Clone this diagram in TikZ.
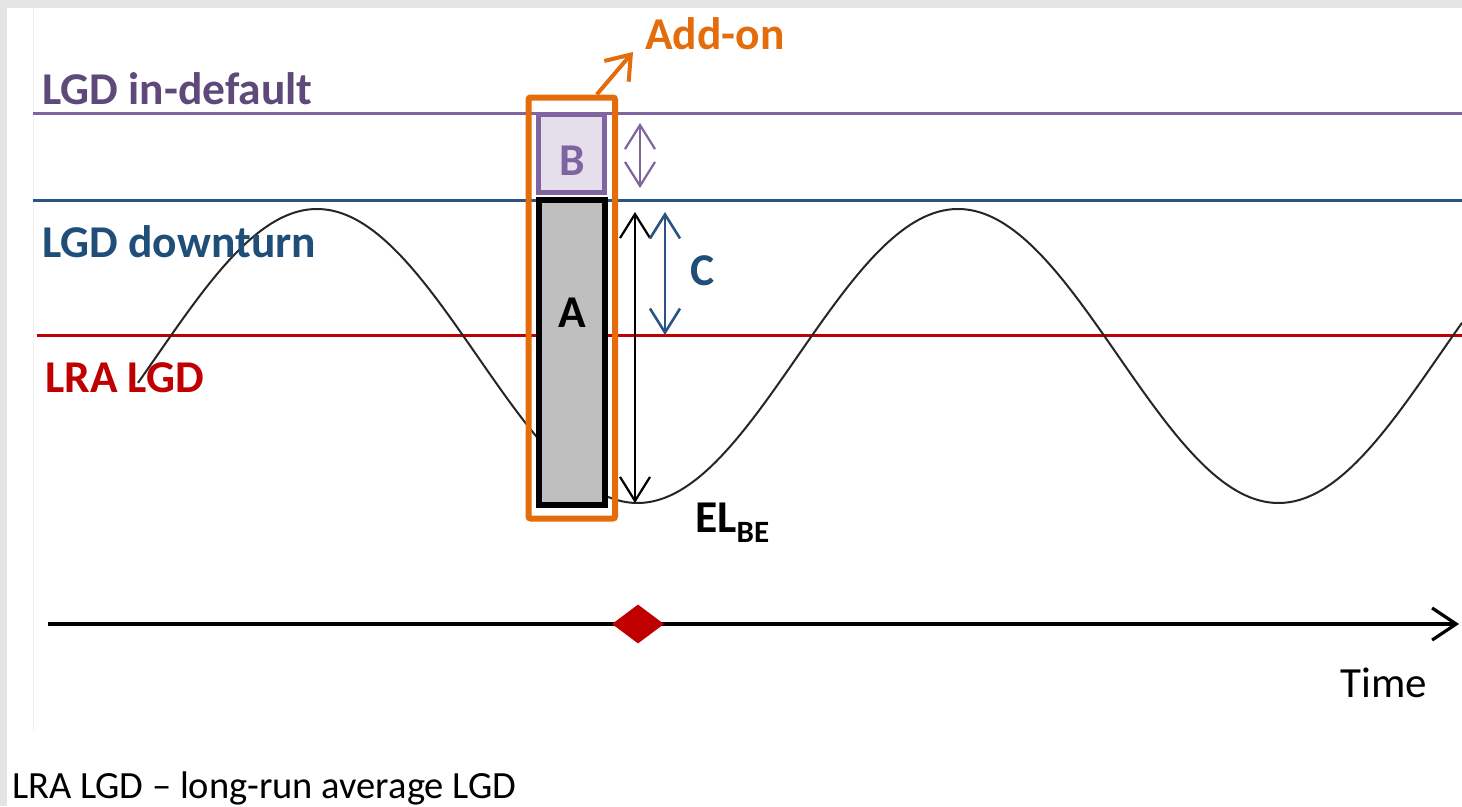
\documentclass[tikz,border=0pt]{standalone}
\usepackage{fontspec}
\setmainfont{Carlito}
\usepackage{xcolor}
\usepackage{tikz}
\usetikzlibrary{shapes.geometric, arrows.meta, positioning}

\definecolor{lgdpurple}{HTML}{8064A2}
\definecolor{lgdpurpletext}{HTML}{5F497A}
\definecolor{lgdblue}{HTML}{1F4E79}
\definecolor{lgdblueline}{HTML}{2B5483}
\definecolor{lgdred}{HTML}{C00000}
\definecolor{addonorange}{HTML}{E46C0A}
\definecolor{pagegray}{HTML}{E4E4E4}
\definecolor{barfill}{HTML}{BFBFBF}
\definecolor{bfill}{HTML}{E5DFEC}

\begin{document}
\begin{tikzpicture}[
  x=1pt, y=-1pt,
  lvltext/.style={anchor=base west, inner sep=0pt, font=\fontsize{45.5}{52}\selectfont\bfseries},
  plaintext/.style={anchor=base west, inner sep=0pt, font=\fontsize{43}{50}\selectfont},
  bartext/.style={anchor=base, inner sep=0pt, font=\fontsize{45.5}{52}\selectfont\bfseries},
  levelline/.style={line width=3pt},
  barbox/.style={rectangle, draw=black, line width=6pt, fill=barfill,
                 minimum width=66pt, minimum height=305pt, inner sep=0pt},
  inbox/.style={rectangle, draw=lgdpurple, line width=5pt, fill=bfill,
                minimum width=66pt, minimum height=78pt, inner sep=0pt},
  addonbox/.style={rectangle, draw=addonorange, line width=6pt, rounded corners=2pt,
                   minimum width=86.5pt, minimum height=421pt, inner sep=0pt},
  dbl/.style={{Straight Barb[length=24pt,width=30pt]}-{Straight Barb[length=24pt,width=30pt]},
              line width=2.2pt},
  addonarrow/.style={-{Straight Barb[length=22pt,width=32pt]}, line width=4pt, color=addonorange},
  timeaxis/.style={-{Straight Barb[length=24pt,width=32pt]}, line width=3.2pt},
  cycle/.style={line width=2pt, black!85}
]

\useasboundingbox (0,0) rectangle (1462,806);
\fill[pagegray] (0,0) rectangle (1462,806);
\fill[white] (7,8) rectangle (1462,806);
\draw[black!6, line width=1pt] (33,8) -- (33,731);

\draw[levelline, lgdpurple] (33,113) -- (1462,113);
\draw[levelline, lgdblueline] (33,200) -- (1462,200);
\draw[levelline, lgdred] (37,335) -- (1462,335);

\draw[cycle] plot[domain=138:1462, samples=240, smooth] (\x, {356-147*cos((\x-317)/641*360)});

\coordinate (tstart) at (48,624);
\coordinate (tend) at (1459,624);
\draw[timeaxis] (tstart) -- (tend);
\node[diamond, fill=lgdred, inner sep=0pt, minimum width=52pt, minimum height=39pt] (today) at (638,624) {};

\node[addonbox] (addon) at (571.75,308) {};
\node[barbox] (barA) at (572,352.5) {};
\node[inbox] (boxB) at (571.5,153) {};
\node[bartext] (textA) at (572,327) {A};
\node[bartext, text=lgdpurple] (textB) at (572,175) {B};

\node[lvltext, text=lgdpurpletext] (lblindef) at (42,104) {LGD in-default};
\node[lvltext, text=lgdblue] (lbldown) at (42,257) {LGD downturn};
\node[lvltext, text=lgdred] (lbllra) at (45,392) {LRA LGD};
\node[lvltext, text=addonorange] (lbladdon) at (645,49) {Add-on};
\node[lvltext, text=lgdblue] (lblC) at (690,285) {C};
\node[lvltext] (lblel) at (695,532) {EL\raisebox{-10pt}{\fontsize{31}{34}\selectfont BE}};
\node[plaintext] (lbltime) at (1340,697) {Time};
\node[plaintext, font=\fontsize{38.5}{44}\selectfont] (note) at (12,798) {LRA LGD – long-run average LGD};

\coordinate (inTop) at (640,123);
\coordinate (inBot) at (640,188);
\coordinate (elTop) at (635,212);
\coordinate (elBot) at (635,503);
\coordinate (cTop) at (665,212);
\coordinate (cBot) at (665,335);

\draw[dbl, lgdpurple] (inTop) -- (inBot);
\draw[dbl] (elTop) -- (elBot);
\draw[dbl, lgdblueline, line width=2.6pt] (cTop) -- (cBot);
\draw[addonarrow] ([xshift=25pt]addon.north) -- ([xshift=-12pt,yshift=-3pt]lbladdon.base west);

\end{tikzpicture}
\end{document}
